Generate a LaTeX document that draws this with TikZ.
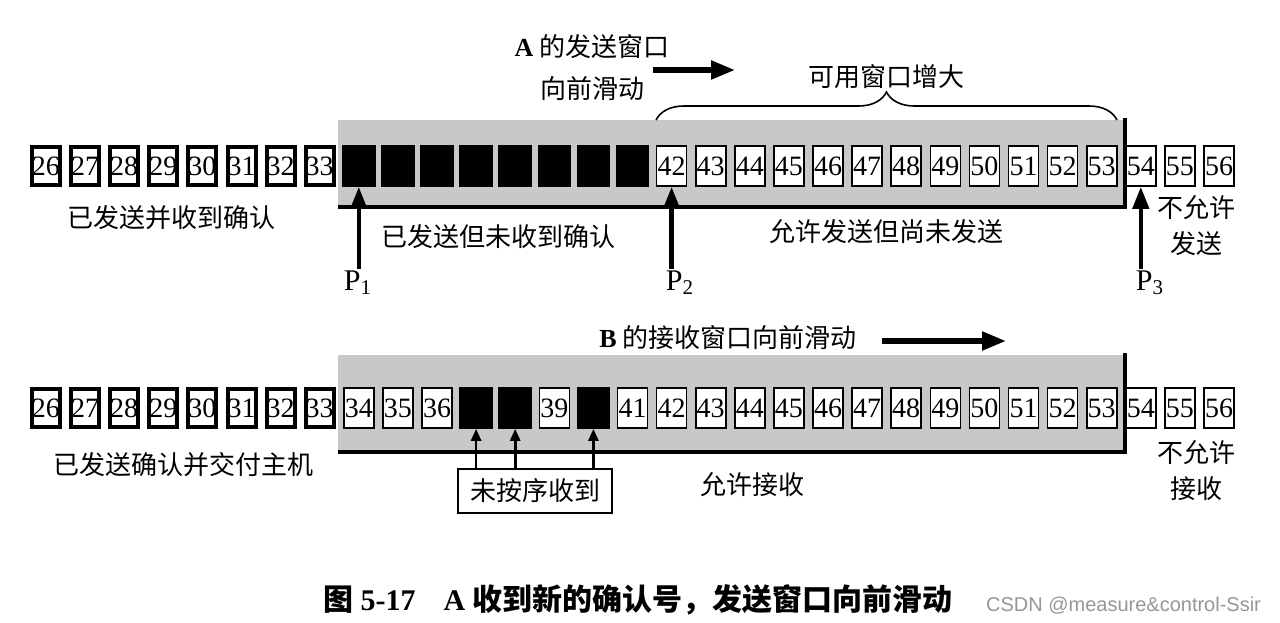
\documentclass[tikz,border=0pt]{standalone}
\usepackage{fontspec}
\setmainfont{Liberation Serif}
\newfontfamily\zhfont{Noto Sans CJK SC}
\newfontfamily\wmfont{Liberation Sans}
\usepackage{xcolor}
\usetikzlibrary{positioning, arrows.meta, decorations.pathreplacing}
\definecolor{wingray}{RGB}{200,200,200}
\definecolor{wmgray}{RGB}{150,150,150}

\begin{document}
\begin{tikzpicture}[
    x=0.5pt, y=-0.5pt,
    cell/.style={rectangle, draw, fill=white, minimum width=15pt, minimum height=20pt,
                 inner sep=0pt, line width=0.8pt, font=\fontsize{14}{14}\selectfont},
    done/.style={cell, line width=2pt, minimum width=14pt, minimum height=19pt},
    dark/.style={cell, fill=black, minimum width=16pt},
    note/.style={font=\fontsize{13}{16}\selectfont\zhfont, align=center, inner sep=1pt},
    pname/.style={font=\fontsize{15}{15}\selectfont, inner sep=1pt},
    ptr/.style={-{Triangle[length=11pt,width=8pt]}, line width=2.2pt},
    slide/.style={-{Triangle[length=12pt,width=9pt]}, line width=2.6pt},
    tick/.style={-{Triangle[length=6pt,width=5pt]}, line width=1.3pt},
    brace/.style={decorate, decoration={brace, amplitude=14pt}, line width=0.8pt}
]
    \useasboundingbox (0,0) rectangle (1280,622);

    % ---------- A: sending window ----------
    \fill[wingray] (338,120) rectangle (1125,207);
    \draw[line width=1.6pt] (338,207) -| (1125,118);

    % frames 26..56
    \foreach \i in {26,...,33}
        \node[done] (t\i) at ({46+(\i-26)*39.1},166) {\i};
    \foreach \i in {34,...,41}
        \node[dark] (t\i) at ({46+(\i-26)*39.1},166) {};
    \foreach \i in {42,...,56}
        \node[cell] (t\i) at ({46+(\i-26)*39.1},166) {\i};

    % window slides forward
    \node[note] (slideA) at (592,68) {{\rmfamily\bfseries A} 的发送窗口\\[5pt]向前滑动};
    \coordinate (sa1) at (653,70);
    \coordinate (sa2) at (735,70);
    \draw[slide] (sa1) -- (sa2);

    % usable window grows
    \coordinate (wl) at (656,120);
    \coordinate (wr) at (1117,120);
    \draw[brace] (wl) -- (wr);
    \node[note] (grow) at (886,77) {可用窗口增大};

    % pointers
    \node[pname] (p1) at (358,283) {P\textsubscript{1}};
    \node[pname] (p2) at (680,283) {P\textsubscript{2}};
    \node[pname] (p3) at (1150,283) {P\textsubscript{3}};
    \draw[ptr] (t34.south |- p1.north) -- (t34.south);
    \draw[ptr] (t42.south |- p2.north) -- (t42.south);
    \draw[ptr] (t54.south |- p3.north) -- (t54.south);

    % Labels
    \node[note] (acked) at (172,218) {已发送并收到确认};
    \node[note] (sent) at (498,237) {已发送但未收到确认};
    \node[note] (usable) at (886,232) {允许发送但尚未发送};
    \node[note] (nosend) at (1196,226) {不允许\\[2pt]发送};

    % ---------- B: receiving window ----------
    \fill[wingray] (338,355) rectangle (1125,452);
    \draw[line width=1.6pt] (338,452) -| (1125,353);

    \foreach \i in {26,...,33}
        \node[done] (b\i) at ({46+(\i-26)*39.1},408) {\i};
    \foreach \i in {34,35,36,39,41,42,...,56}
        \node[cell] (b\i) at ({46+(\i-26)*39.1},408) {\i};
    \foreach \i in {37,38,40}
        \node[dark] (b\i) at ({46+(\i-26)*39.1},408) {};

    % window slides forward
    \node[note] (slideB) at (728,338) {{\rmfamily\bfseries B} 的接收窗口向前滑动};
    \coordinate (sb1) at (882,341);
    \coordinate (sb2) at (1006,341);
    \draw[slide] (sb1) -- (sb2);

    % out of order
    \node[note, draw, line width=0.8pt, minimum width=77pt, minimum height=22pt] (ooo) at (535,491) {未按序收到};
    \draw[tick] (b37.south |- ooo.north) -- (b37.south);
    \draw[tick] (b38.south |- ooo.north) -- (b38.south);
    \draw[tick] (b40.south |- ooo.north) -- (b40.south);

    % Labels
    \node[note] (deliv) at (184,465) {已发送确认并交付主机};
    \node[note] (recv) at (752,485) {允许接收};
    \node[note] (norecv) at (1196,471) {不允许\\[2pt]接收};

    % caption
    \node[font=\fontsize{15}{15}\selectfont\bfseries] (cap) at (638,600)
        {{\zhfont 图} 5-17\hspace{14pt}A {\zhfont 收到新的确认号，发送窗口向前滑动}};
    \node[font=\fontsize{10}{10}\selectfont\wmfont, text=wmgray, anchor=east] (wm) at (1268,606)
        {CSDN @measure\&control-Ssir};
\end{tikzpicture}
\end{document}
